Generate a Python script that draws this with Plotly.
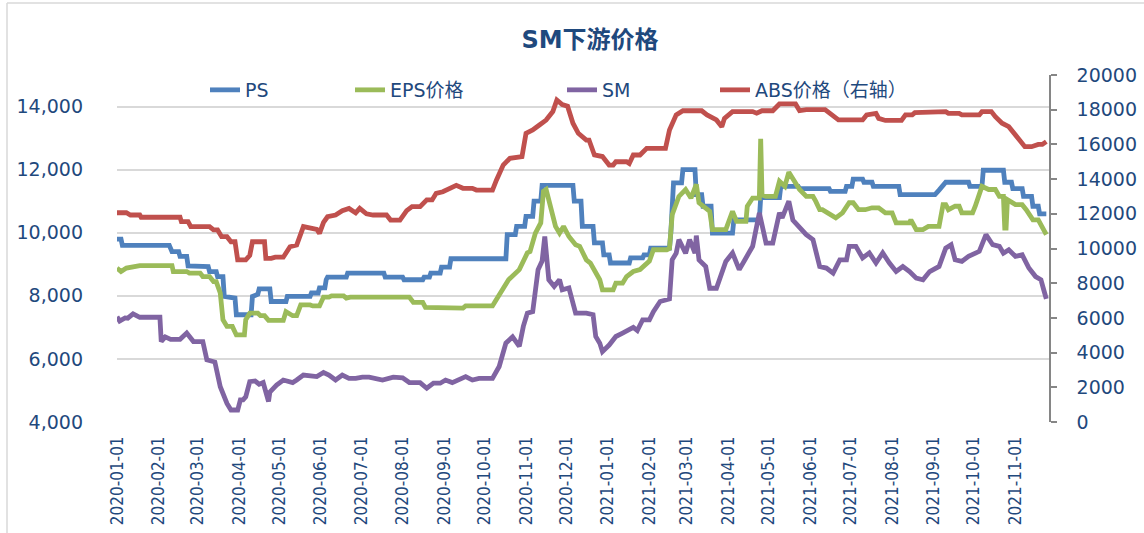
import plotly.graph_objects as go

# ---------------- data ----------------
ps_dates = ["2020-01-01","2020-01-04","2020-01-05","2020-02-09","2020-02-11","2020-02-16","2020-02-17","2020-02-22",
    "2020-02-23","2020-03-09","2020-03-10","2020-03-15","2020-03-16","2020-03-20","2020-03-21","2020-03-29",
    "2020-03-30","2020-04-10","2020-04-11","2020-04-15","2020-04-16","2020-04-24","2020-04-25","2020-05-06",
    "2020-05-07","2020-05-24","2020-05-25","2020-05-30","2020-05-31","2020-06-04","2020-06-05","2020-06-06",
    "2020-06-20","2020-06-21","2020-07-18","2020-07-19","2020-08-01","2020-08-02","2020-08-16","2020-08-17",
    "2020-08-21","2020-08-22","2020-08-29","2020-08-30","2020-09-05","2020-09-06","2020-10-17","2020-10-18",
    "2020-10-24","2020-10-25","2020-10-31","2020-11-01","2020-11-06","2020-11-07","2020-11-12","2020-11-13",
    "2020-12-06","2020-12-07","2020-12-12","2020-12-13","2020-12-21","2020-12-22","2020-12-28","2020-12-29",
    "2021-01-02","2021-01-03","2021-01-17","2021-01-18","2021-01-27","2021-01-28","2021-02-01","2021-02-02",
    "2021-02-16","2021-02-17","2021-02-19","2021-02-25","2021-02-26","2021-03-07","2021-03-08","2021-03-12",
    "2021-03-13","2021-03-19","2021-03-20","2021-04-04","2021-04-05","2021-04-24","2021-04-25","2021-05-09",
    "2021-05-10","2021-05-23","2021-05-24","2021-06-15","2021-06-16","2021-06-27","2021-06-28","2021-07-02",
    "2021-07-03","2021-07-10","2021-07-11","2021-07-17","2021-07-18","2021-08-06","2021-08-07","2021-09-02",
    "2021-09-05","2021-09-10","2021-09-27","2021-09-28","2021-10-07","2021-10-08","2021-10-23","2021-10-24",
    "2021-10-29","2021-10-30","2021-11-06","2021-11-07","2021-11-13","2021-11-14","2021-11-18","2021-11-19",
    "2021-11-24"]
ps_vals = [9800,9800,9600,9600,9400,9400,9250,9250,
    8950,8930,8770,8770,8610,8610,7980,7930,
    7400,7400,7980,8050,8220,8220,7820,7820,
    7980,7980,8090,8090,8250,8250,8510,8590,
    8590,8720,8720,8590,8590,8510,8510,8590,
    8590,8720,8720,8910,8910,9175,9175,9940,
    9940,10200,10200,10520,10520,11000,11000,11500,
    11500,11000,11000,10200,10200,9680,9680,9300,
    9300,9040,9040,9200,9200,9300,9300,9510,
    9510,10000,11580,11580,12000,12000,11210,11210,
    10840,10840,9990,9990,10410,10410,11110,11110,
    11470,11470,11400,11400,11310,11310,11470,11470,
    11700,11700,11600,11600,11470,11470,11210,11210,
    11350,11600,11600,11470,11470,11980,11980,11600,
    11600,11400,11400,11150,11150,10840,10840,10600,
    10600]

eps_dates = ["2020-01-01","2020-01-04","2020-01-08","2020-01-16","2020-01-18","2020-02-11","2020-02-12","2020-02-22",
    "2020-02-24","2020-03-03","2020-03-05","2020-03-10","2020-03-13","2020-03-15","2020-03-16","2020-03-18",
    "2020-03-20","2020-03-23","2020-03-27","2020-03-30","2020-04-05","2020-04-06","2020-04-09","2020-04-15",
    "2020-04-17","2020-04-20","2020-04-23","2020-05-04","2020-05-06","2020-05-11","2020-05-14","2020-05-17",
    "2020-05-24","2020-05-26","2020-05-31","2020-06-03","2020-06-07","2020-06-09","2020-06-18","2020-06-20",
    "2020-06-23","2020-08-06","2020-08-09","2020-08-16","2020-08-18","2020-08-29","2020-08-31","2020-09-15",
    "2020-09-17","2020-10-07","2020-10-09","2020-10-14","2020-10-19","2020-10-27","2020-11-02","2020-11-04",
    "2020-11-08","2020-11-12","2020-11-14","2020-11-16","2020-11-17","2020-11-20","2020-11-23","2020-11-26",
    "2020-11-29","2020-12-03","2020-12-08","2020-12-11","2020-12-16","2020-12-19","2020-12-23","2020-12-26",
    "2020-12-28","2021-01-05","2021-01-07","2021-01-12","2021-01-15","2021-01-20","2021-01-25","2021-01-27",
    "2021-02-01","2021-02-04","2021-02-14","2021-02-16","2021-02-18","2021-02-23","2021-02-28","2021-03-04",
    "2021-03-08","2021-03-10","2021-03-18","2021-03-20","2021-03-30","2021-04-04","2021-04-07","2021-04-14",
    "2021-04-15","2021-04-19","2021-04-24","2021-04-25","2021-04-26","2021-04-29","2021-05-06","2021-05-09",
    "2021-05-13","2021-05-16","2021-05-20","2021-05-24","2021-05-29","2021-06-03","2021-06-05","2021-06-08",
    "2021-06-10","2021-06-18","2021-06-20","2021-06-25","2021-06-30","2021-07-03","2021-07-07","2021-07-12",
    "2021-07-17","2021-07-22","2021-07-27","2021-08-01","2021-08-04","2021-08-14","2021-08-15","2021-08-19",
    "2021-08-24","2021-08-28","2021-09-05","2021-09-08","2021-09-10","2021-09-12","2021-09-17","2021-09-20",
    "2021-09-22","2021-09-30","2021-10-02","2021-10-07","2021-10-12","2021-10-17","2021-10-20","2021-10-23",
    "2021-10-24","2021-10-25","2021-10-26","2021-11-01","2021-11-06","2021-11-09","2021-11-14","2021-11-18",
    "2021-11-21","2021-11-24"]
eps_vals = [8880,8770,8880,8930,8960,8960,8770,8770,
    8720,8720,8610,8610,8450,8450,8300,8090,
    7240,7030,7030,6760,6760,7240,7450,7450,
    7370,7370,7220,7220,7500,7370,7370,7710,
    7710,7680,7680,7960,7960,8000,8000,7930,
    7960,7960,7790,7790,7630,7630,7610,7610,
    7680,7680,7820,8140,8510,8830,9360,9400,
    9990,10310,11310,11370,11210,10630,10200,9990,
    10200,9880,9620,9570,9140,9040,8770,8510,
    8190,8190,8400,8400,8610,8770,8830,8900,
    9100,9460,9460,9500,10570,11150,11370,11100,
    11530,10950,10680,10100,10100,10680,10360,10360,
    10840,11100,11100,12975,11200,11150,11150,11630,
    11470,11920,11630,11370,11150,11150,11000,10730,
    10730,10520,10470,10630,10950,10950,10730,10730,
    10790,10790,10630,10630,10310,10310,10410,10100,
    10100,10200,10200,10890,10890,10730,10840,10840,
    10630,10630,10840,11470,11370,11370,11150,11150,
    10150,10150,11050,10890,10890,10730,10410,10410,
    10200,9940]

sm_dates = ["2020-01-01","2020-01-03","2020-01-07","2020-01-09","2020-01-13","2020-01-18","2020-02-02","2020-02-03",
    "2020-02-06","2020-02-10","2020-02-17","2020-02-22","2020-02-27","2020-03-05","2020-03-08","2020-03-14",
    "2020-03-18","2020-03-23","2020-03-26","2020-03-31","2020-04-02","2020-04-04","2020-04-06","2020-04-09",
    "2020-04-13","2020-04-16","2020-04-19","2020-04-23","2020-04-24","2020-04-29","2020-05-04","2020-05-11",
    "2020-05-14","2020-05-19","2020-05-29","2020-06-03","2020-06-07","2020-06-12","2020-06-17","2020-06-22",
    "2020-06-27","2020-07-02","2020-07-07","2020-07-12","2020-07-17","2020-07-25","2020-08-01","2020-08-06",
    "2020-08-14","2020-08-19","2020-08-24","2020-08-29","2020-09-02","2020-09-07","2020-09-12","2020-09-17",
    "2020-09-22","2020-09-27","2020-10-07","2020-10-12","2020-10-17","2020-10-22","2020-10-27","2020-10-30",
    "2020-11-02","2020-11-06","2020-11-10","2020-11-13","2020-11-15","2020-11-18","2020-11-22","2020-11-26",
    "2020-11-28","2020-12-03","2020-12-08","2020-12-16","2020-12-21","2020-12-23","2020-12-26","2020-12-28",
    "2021-01-02","2021-01-07","2021-01-12","2021-01-20","2021-01-23","2021-01-27","2021-02-01","2021-02-04",
    "2021-02-09","2021-02-16","2021-02-18","2021-02-21","2021-02-23","2021-02-28","2021-03-03","2021-03-07",
    "2021-03-08","2021-03-10","2021-03-15","2021-03-18","2021-03-23","2021-03-25","2021-03-30","2021-04-04",
    "2021-04-07","2021-04-09","2021-04-14","2021-04-19","2021-04-24","2021-04-29","2021-05-04","2021-05-09",
    "2021-05-11","2021-05-16","2021-05-19","2021-05-24","2021-05-29","2021-06-03","2021-06-08","2021-06-13",
    "2021-06-18","2021-06-23","2021-06-28","2021-06-30","2021-07-05","2021-07-10","2021-07-15","2021-07-20",
    "2021-07-25","2021-07-30","2021-08-04","2021-08-09","2021-08-14","2021-08-19","2021-08-24","2021-08-29",
    "2021-09-05","2021-09-10","2021-09-14","2021-09-17","2021-09-22","2021-09-27","2021-10-05","2021-10-10",
    "2021-10-15","2021-10-20","2021-10-23","2021-10-27","2021-11-01","2021-11-06","2021-11-11","2021-11-16",
    "2021-11-20","2021-11-22","2021-11-24"]
sm_vals = [7340,7200,7300,7290,7430,7320,7320,6550,
    6700,6620,6620,6820,6550,6550,5970,5900,
    5120,4590,4380,4380,4700,4700,4800,5280,
    5300,5200,5250,4650,4950,5170,5330,5250,
    5330,5490,5440,5570,5490,5330,5490,5380,
    5380,5420,5420,5380,5330,5420,5400,5250,
    5250,5070,5230,5230,5330,5250,5330,5440,
    5330,5380,5380,5760,6500,6700,6400,7030,
    7450,7500,8830,9100,9880,8510,8300,8510,
    8190,8250,7450,7450,7400,6710,6500,6230,
    6440,6710,6820,7000,6900,7240,7240,7500,
    7820,7900,9140,9350,9780,9350,9780,9350,
    9910,9140,8930,8240,8240,8510,9090,9360,
    9040,8830,9200,9570,10630,9670,9670,10630,
    10470,11000,10400,10150,9940,9780,8930,8880,
    8720,9140,9140,9570,9570,9200,9360,9040,
    9360,9040,8770,8930,8770,8560,8510,8770,
    8930,9510,9620,9140,9090,9250,9410,9940,
    9620,9570,9350,9460,9250,9300,8880,8610,
    8510,8200,7900]

abs_dates = ["2020-01-01","2020-01-08","2020-01-11","2020-01-18","2020-01-19","2020-02-17","2020-02-18","2020-02-23",
    "2020-02-25","2020-03-10","2020-03-13","2020-03-16","2020-03-19","2020-03-23","2020-03-26","2020-03-29",
    "2020-03-31","2020-04-06","2020-04-09","2020-04-11","2020-04-20","2020-04-21","2020-04-25","2020-04-28",
    "2020-05-04","2020-05-09","2020-05-14","2020-05-19","2020-05-29","2020-05-31","2020-06-03","2020-06-06",
    "2020-06-12","2020-06-17","2020-06-22","2020-06-27","2020-06-30","2020-07-05","2020-07-10","2020-07-20",
    "2020-07-23","2020-07-30","2020-08-04","2020-08-08","2020-08-14","2020-08-19","2020-08-23","2020-08-26",
    "2020-08-31","2020-09-05","2020-09-10","2020-09-15","2020-09-22","2020-09-25","2020-10-07","2020-10-10",
    "2020-10-15","2020-10-20","2020-10-29","2020-11-01","2020-11-06","2020-11-11","2020-11-16","2020-11-21",
    "2020-11-24","2020-11-28","2020-12-02","2020-12-06","2020-12-10","2020-12-16","2020-12-18","2020-12-22",
    "2020-12-28","2021-01-02","2021-01-05","2021-01-07","2021-01-15","2021-01-17","2021-01-20","2021-01-25",
    "2021-01-30","2021-02-13","2021-02-16","2021-02-21","2021-02-26","2021-03-12","2021-03-16","2021-03-23",
    "2021-03-27","2021-03-29","2021-04-04","2021-04-19","2021-04-22","2021-04-26","2021-05-04","2021-05-09",
    "2021-05-21","2021-05-24","2021-05-29","2021-06-12","2021-06-17","2021-06-22","2021-07-10","2021-07-13",
    "2021-07-20","2021-07-22","2021-07-27","2021-08-08","2021-08-11","2021-08-16","2021-08-18","2021-08-26",
    "2021-08-28","2021-09-10","2021-09-12","2021-09-20","2021-09-22","2021-10-05","2021-10-07","2021-10-14",
    "2021-10-17","2021-10-22","2021-10-27","2021-10-30","2021-11-03","2021-11-08","2021-11-13","2021-11-18",
    "2021-11-21","2021-11-24"]
abs_vals = [12060,12060,11930,11930,11800,11800,11550,11550,
    11260,11260,11070,11070,10680,10680,10390,10390,
    9340,9340,9600,10390,10390,9430,9430,9500,
    9500,10100,10200,11260,11100,10870,11500,11830,
    11930,12180,12310,12050,12310,12000,11930,11930,
    11640,11640,12180,12410,12410,12800,12800,13180,
    13270,13470,13640,13470,13470,13370,13370,13950,
    14810,15200,15300,16640,16830,17120,17400,17890,
    18560,18300,18200,17220,16640,16250,16250,15390,
    15300,14810,14810,15000,15000,14900,15390,15390,
    15770,15770,16830,17700,17940,17940,17700,17410,
    17020,17500,17890,17890,17800,17940,17940,18330,
    18330,17940,18000,18000,17700,17410,17410,17700,
    17790,17500,17380,17380,17700,17700,17830,17830,
    17890,17890,17790,17790,17700,17700,17890,17890,
    17600,17220,17020,16730,16250,15870,15870,16000,
    16000,16160]

series_names = ["PS", "EPS价格", "SM", "ABS价格（右轴）"]
series_colors = ["#4F81BD", "#9BBB59", "#8064A2", "#C0504D"]

# ---------------- figure ----------------
TXT = "#1F497D"
FONT = "DejaVu Sans, Noto Sans CJK SC, sans-serif"

fig = go.Figure()
data = [(ps_dates, ps_vals, "y"), (eps_dates, eps_vals, "y"), (sm_dates, sm_vals, "y"), (abs_dates, abs_vals, "y2")]
legend_ids = ["legend", "legend2", "legend3", "legend4"]
for (d, v, ax), name, col, lg in zip(data, series_names, series_colors, legend_ids):
    fig.add_trace(go.Scatter(x=d, y=v, name=name, mode="lines", yaxis=ax, legend=lg, showlegend=True,
                             line=dict(color=col, width=4.8)))

W, H = 1144, 533
L, R, T, B = 117, 95, 75, 111
pw = W - L - R
ph = H - T - B

def lx(px):
    return (px - L) / pw

leg_common = dict(orientation="h", yanchor="middle", y=(H - B - 90) / ph,
                  xanchor="left", bgcolor="rgba(0,0,0,0)", itemwidth=30,
                  font=dict(family=FONT, size=19, color=TXT))

fig.update_layout(
    width=W, height=H, showlegend=True,
    margin=dict(l=L, r=R, t=T, b=B, pad=0, autoexpand=False),
    paper_bgcolor="white", plot_bgcolor="white",
    title=dict(text="<b>SM下游价格</b>", x=590 / W, xanchor="center", y=1 - 40 / H, yanchor="middle",
               font=dict(family=FONT, size=24, color=TXT)),
    legend=dict(leg_common, x=lx(205)),
    legend2=dict(leg_common, x=lx(350)),
    legend3=dict(leg_common, x=lx(562)),
    legend4=dict(leg_common, x=lx(715)),
    xaxis=dict(type="date", range=["2020-01-01", "2021-11-26"], dtick="M1", tick0="2020-01-01",
               tickformat="%Y-%m-%d", tickangle=-90, showgrid=False, showline=False, zeroline=False,
               ticks="", ticklabelstandoff=10, automargin=False,
               tickfont=dict(family="Liberation Sans Narrow, DejaVu Sans Condensed, sans-serif", size=17, color=TXT)),
    yaxis=dict(range=[4000, 15000], tick0=4000, dtick=2000, tickformat=",d", showgrid=True,
               gridcolor="#D9D9D9", gridwidth=1.5, zeroline=False, showline=False, ticks="",
               ticklabelstandoff=33, automargin=False, tickfont=dict(family=FONT, size=19, color=TXT)),
    yaxis2=dict(range=[0, 20000], dtick=2000, overlaying="y", side="right", showgrid=False, zeroline=False,
                showline=True, linecolor="#868686", linewidth=1.5, ticks="outside", ticklen=6,
                tickcolor="#868686", tickwidth=1.5, ticklabelstandoff=16, tickformat="d", automargin=False,
                tickfont=dict(family=FONT, size=19, color=TXT)),
    shapes=[
        dict(type="line", xref="paper", yref="paper", x0=(7 - L) / pw, x1=(7 - L) / pw,
             y0=-B / ph, y1=(H - B - 3) / ph, line=dict(color="#D9D9D9", width=1.5)),
        dict(type="line", xref="paper", yref="paper", x0=(7 - L) / pw, x1=(W - L) / pw,
             y0=(H - B - 3) / ph, y1=(H - B - 3) / ph, line=dict(color="#D9D9D9", width=1.5)),
    ],
)

fig.write_html("out.html", config={"displayModeBar": False},
               post_script="document.body.style.margin='0';")
